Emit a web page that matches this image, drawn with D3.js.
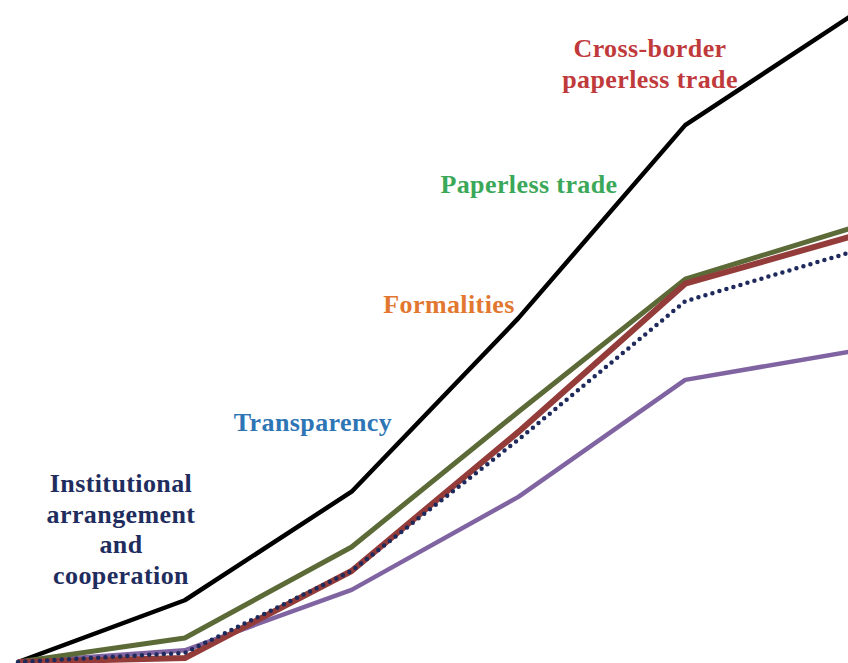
<!DOCTYPE html>
<html><head><meta charset="utf-8">
<script src="https://cdn.jsdelivr.net/npm/d3@7"></script>
<style>html,body{margin:0;padding:0;background:#fff;overflow:hidden}</style>
</head><body>
<svg id="c" width="848" height="663"></svg>
<script>
const steps = [0, 1, 2, 3, 4, 5];
const seriesBlack  = [0, 9.5, 26.2, 52.9, 82.6, 99.5];
const seriesPurple = [0, 1.8, 11.1, 25.4, 43.4, 47.8];
const seriesOlive  = [0, 3.7, 17.7, 38.5, 58.9, 66.8];
const seriesRed    = [0, 0.6, 14.0, 35.4, 58.2, 65.5];
const seriesNavy   = [0, 1.4, 14.0, 34.2, 55.5, 63.1];

const labelTexts = [
  ["Institutional", "arrangement", "and", "cooperation"],
  ["Transparency"],
  ["Formalities"],
  ["Paperless trade"],
  ["Cross-border", "paperless trade"]
];
const labelColors = ["#1f2d5e", "#2e75b6", "#e2772f", "#3aa858", "#c0393b"];
const labelCenters = [[121, 492], [313, 431], [449, 313], [529, 193], [650, 57]];

const svg = d3.select("#c");
const x = d3.scaleLinear().domain([0, 5]).range([18, 852]);
const y = d3.scaleLinear().domain([0, 100]).range([662, 12]);
const line = d3.line().x((d, i) => x(steps[i])).y(d => y(d));

const lines = [
  {v: seriesBlack, c: "#000000", w: 4.5},
  {v: seriesPurple, c: "#8064a2", w: 4.5},
  {v: seriesOlive, c: "#5b6a37", w: 5},
  {v: seriesRed, c: "#943c3a", w: 6},
  {v: seriesNavy, c: "#1f2a5c", w: 4.5, dash: "0 7.3"}
];
lines.forEach(s => {
  const p = svg.append("path").datum(s.v).attr("d", line)
    .attr("fill", "none").attr("stroke", s.c).attr("stroke-width", s.w)
    .attr("stroke-linejoin", "round");
  if (s.dash) p.attr("stroke-dasharray", s.dash).attr("stroke-linecap", "round");
});

labelTexts.forEach((lines, i) => {
  const t = svg.append("text")
    .attr("font-family", "'Liberation Serif', 'Times New Roman', serif")
    .attr("font-weight", "bold").attr("font-size", 26)
    .attr("letter-spacing", 0.4)
    .attr("fill", labelColors[i]).attr("text-anchor", "middle");
  lines.forEach((ln, j) => {
    t.append("tspan").attr("x", labelCenters[i][0])
      .attr("y", labelCenters[i][1] + j * 30.5).text(ln);
  });
});
</script>
</body></html>
